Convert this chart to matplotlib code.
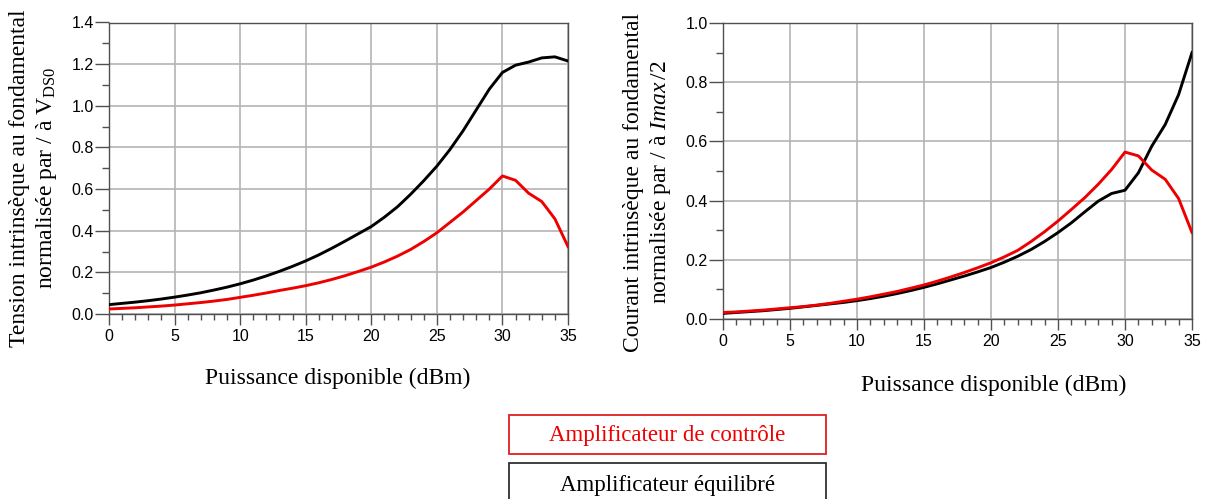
import matplotlib
matplotlib.use("Agg")
import matplotlib.pyplot as plt
from matplotlib.patches import Rectangle
from matplotlib.ticker import MultipleLocator

plt.rcParams['mathtext.fontset'] = 'custom'
plt.rcParams['mathtext.rm'] = 'Liberation Serif'
plt.rcParams['mathtext.it'] = 'Liberation Serif:italic'

# ---- data ----
power_dbm = list(range(0, 36))

tension_equilibre = [0.045, 0.051, 0.057, 0.064, 0.072, 0.081, 0.091, 0.102, 0.115, 0.129,
                     0.145, 0.163, 0.183, 0.205, 0.229, 0.255, 0.284, 0.316, 0.350, 0.385,
                     0.420, 0.465, 0.515, 0.575, 0.640, 0.710, 0.790, 0.880, 0.980, 1.080,
                     1.160, 1.195, 1.210, 1.230, 1.235, 1.215]
tension_controle = [0.024, 0.027, 0.030, 0.034, 0.038, 0.043, 0.049, 0.055, 0.062, 0.070,
                    0.080, 0.090, 0.101, 0.113, 0.124, 0.136, 0.150, 0.166, 0.184, 0.204,
                    0.225, 0.250, 0.278, 0.310, 0.348, 0.390, 0.440, 0.490, 0.545, 0.600,
                    0.663, 0.642, 0.580, 0.540, 0.457, 0.324]

courant_equilibre = [0.019, 0.022, 0.025, 0.028, 0.032, 0.036, 0.041, 0.046, 0.051, 0.056,
                     0.062, 0.069, 0.077, 0.086, 0.096, 0.107, 0.119, 0.132, 0.145, 0.159,
                     0.174, 0.192, 0.212, 0.235, 0.262, 0.292, 0.325, 0.362, 0.398, 0.424,
                     0.435, 0.494, 0.584, 0.657, 0.758, 0.900]
courant_controle = [0.022, 0.024, 0.027, 0.030, 0.034, 0.038, 0.042, 0.047, 0.053, 0.060,
                    0.067, 0.075, 0.084, 0.093, 0.104, 0.115, 0.128, 0.142, 0.157, 0.173,
                    0.190, 0.210, 0.232, 0.262, 0.295, 0.331, 0.370, 0.410, 0.455, 0.505,
                    0.564, 0.551, 0.503, 0.472, 0.407, 0.292]

label_controle = "Amplificateur de contrôle"
label_equilibre = "Amplificateur équilibré"
xlabel = "Puissance disponible (dBm)"
ylabel_left = "Tension intrinsèque au fondamental\nnormalisée par / à V$_{\\mathrm{DS0}}$"
ylabel_right = "Courant intrinsèque au fondamental\nnormalisée par / à $\\mathit{Imax}\\,/2$"

W, H = 1206, 499
fig = plt.figure(figsize=(W / 100, H / 100), dpi=100)

def fx(px):
    return px / W

def fy(py):
    return 1 - py / H

serif = 'Liberation Serif'
sans = 'Liberation Sans'
spine_col = '#505050'
grid_col = '#b4b4b4'

def style_axes(ax, ymax, ymajor, yminor):
    ax.set_xlim(0, 35)
    ax.set_ylim(0, ymax)
    ax.xaxis.set_major_locator(MultipleLocator(5))
    ax.xaxis.set_minor_locator(MultipleLocator(1))
    ax.yaxis.set_major_locator(MultipleLocator(ymajor))
    ax.yaxis.set_minor_locator(MultipleLocator(yminor))
    ax.grid(True, which='major', color=grid_col, linewidth=1.2)
    ax.set_axisbelow(True)
    for s in ax.spines.values():
        s.set_color(spine_col)
        s.set_linewidth(1.0)
    ax.tick_params(axis='y', which='major', direction='out', length=10, width=1,
                   color=spine_col, pad=1, labelsize=11.5)
    ax.tick_params(axis='y', which='minor', direction='out', length=5, width=1,
                   color=spine_col)
    ax.tick_params(axis='x', which='major', direction='out', length=8, width=1,
                   color=spine_col, pad=3, labelsize=11.5)
    ax.tick_params(axis='x', which='minor', direction='out', length=4.5, width=1,
                   color=spine_col)
    ax.yaxis.set_major_formatter(matplotlib.ticker.FormatStrFormatter('%.1f'))

# left axes
ax1 = fig.add_axes([fx(109), fy(314), fx(568) - fx(109), fy(22.5) - fy(314)])
style_axes(ax1, 1.4, 0.2, 0.1)
ax1.plot(power_dbm, tension_equilibre, color='black', linewidth=2.1, zorder=3)
ax1.plot(power_dbm, tension_controle, color='#ee0000', linewidth=2.1, zorder=3)

# right axes
ax2 = fig.add_axes([fx(723), fy(319), fx(1192) - fx(723), fy(23) - fy(319)])
style_axes(ax2, 1.0, 0.2, 0.1)
ax2.plot(power_dbm, courant_equilibre, color='black', linewidth=2.1, zorder=3)
ax2.plot(power_dbm, courant_controle, color='#ee0000', linewidth=2.1, zorder=3)

for a in (ax1, ax2):
    for lab in a.get_xticklabels() + a.get_yticklabels():
        lab.set_fontfamily(sans)

# y labels
fig.text(fx(34), fy(178), ylabel_left, rotation=90, ha='center', va='center',
         fontsize=17, family=serif, linespacing=1.25)
fig.text(fx(648), fy(182), ylabel_right, rotation=90, ha='center', va='center',
         fontsize=17, family=serif, linespacing=1.25)

# x labels
fig.text(fx(338), fy(378), xlabel, ha='center', va='center', fontsize=17, family=serif)
fig.text(fx(994), fy(385), xlabel, ha='center', va='center', fontsize=17, family=serif)

# legend boxes
fig.patches.append(Rectangle((fx(509), fy(454)), fx(826) - fx(509), fy(415) - fy(454),
                             transform=fig.transFigure, fill=False,
                             edgecolor='#e02020', linewidth=1.3))
fig.text(fx(667), fy(436), label_controle, ha='center', va='center', fontsize=16.5,
         family=serif, color='#ee0000')
fig.patches.append(Rectangle((fx(509), fy(505)), fx(826) - fx(509), fy(463) - fy(505),
                             transform=fig.transFigure, fill=False,
                             edgecolor='#303030', linewidth=1.3, clip_on=False))
fig.text(fx(667), fy(486), label_equilibre, ha='center', va='center', fontsize=16.5,
         family=serif, color='black')

fig.savefig('out.png', dpi=100)
